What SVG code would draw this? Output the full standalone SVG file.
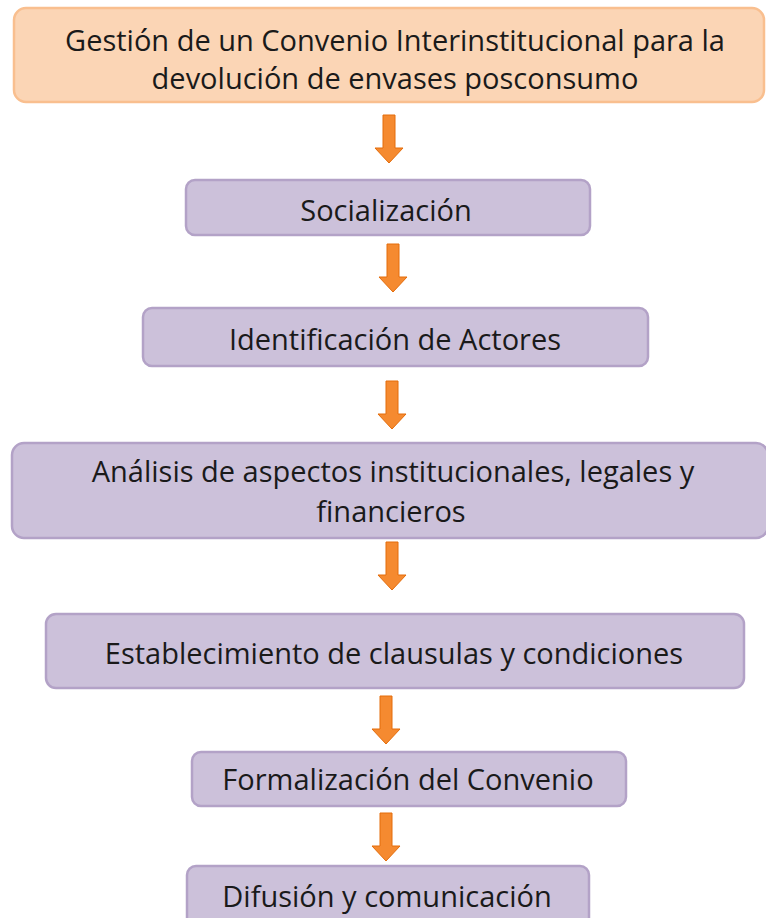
<svg xmlns="http://www.w3.org/2000/svg" width="766" height="918" viewBox="0 0 766 918">
<style>
.peach{fill:#FBD5B5;stroke:#F9BF8F;stroke-width:2.5}
.purple{fill:#CCC1DA;stroke:#B3A2C7;stroke-width:2.5}
text{font-family:"Open Sans","Noto Sans","Liberation Sans",sans-serif;font-size:29px;fill:#1A1A1A;text-anchor:middle}
.arrow{fill:#F58A30;stroke:#E46C0A;stroke-width:1}
</style>
<defs>
<path id="arr" d="M-6,0 H6 V33 H14 L0,48 L-14,33 H-6 Z"/>
</defs>
<rect width="766" height="918" fill="#FFFFFF"/>
<g id="n1"><rect class="peach" x="14" y="8" width="750" height="94" rx="12"/>
<text x="395" y="51">Gestión de un Convenio Interinstitucional para la</text>
<text x="395" y="89">devolución de envases posconsumo</text></g>
<g id="n2"><rect class="purple" x="186" y="180" width="404" height="55" rx="9"/>
<text x="386" y="221">Socialización</text></g>
<g id="n3"><rect class="purple" x="143" y="308" width="505" height="58" rx="9"/>
<text x="395" y="350">Identificación de Actores</text></g>
<g id="n4"><rect class="purple" x="12" y="443" width="756" height="95" rx="12"/>
<text x="393" y="482">Análisis de aspectos institucionales, legales y</text>
<text x="391" y="522">financieros</text></g>
<g id="n5"><rect class="purple" x="46" y="614" width="698" height="74" rx="10"/>
<text x="394" y="664">Establecimiento de clausulas y condiciones</text></g>
<g id="n6"><rect class="purple" x="192" y="752" width="434" height="54" rx="9"/>
<text x="408" y="790">Formalización del Convenio</text></g>
<g id="n7"><rect class="purple" x="187" y="866" width="402" height="62" rx="9"/>
<text x="387" y="907">Difusión y comunicación</text></g>
<g id="connectors">
<use href="#arr" class="arrow" x="389" y="115"/>
<use href="#arr" class="arrow" x="393" y="244"/>
<use href="#arr" class="arrow" x="392" y="381"/>
<use href="#arr" class="arrow" x="392" y="542"/>
<use href="#arr" class="arrow" x="386" y="696"/>
<use href="#arr" class="arrow" x="386" y="813"/>
</g>
</svg>
